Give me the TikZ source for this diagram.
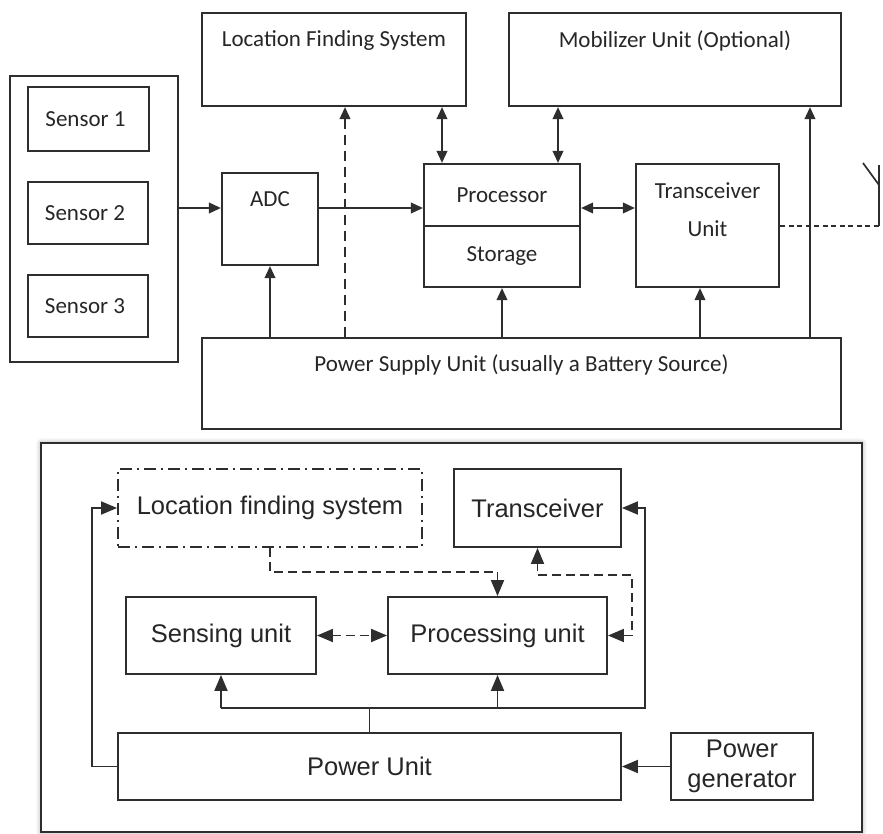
\documentclass[tikz,border=0pt]{standalone}
\usepackage{fontspec}
\newfontfamily\topfont{Carlito}
\newfontfamily\botfont{Liberation Sans}
\usetikzlibrary{arrows.meta,shadows.blur,calc}
\definecolor{ln}{HTML}{2E2E2E}
\definecolor{tx}{HTML}{262626}
\tikzset{
  tbox/.style={draw=ln, line width=2.1pt, inner sep=0pt, text=tx,
    font=\topfont\fontsize{23}{27}\selectfont, align=center},
  bbox/.style={draw=ln, line width=1.9pt, inner sep=0pt, text=tx,
    font=\botfont\fontsize{25.5}{30}\selectfont, align=center},
  tarr/.style={draw=ln, line width=2.1pt, -{Triangle[length=12pt,width=10.5pt]}},
  tdarr/.style={draw=ln, line width=2.1pt, {Triangle[length=12pt,width=10.5pt]}-{Triangle[length=12pt,width=10.5pt]}},
  barr/.style={draw=ln, line width=1.9pt, -{Triangle[length=16pt,width=13pt]}},
  bdarr/.style={draw=ln, line width=1.9pt, {Triangle[length=16pt,width=13pt]}-{Triangle[length=16pt,width=13pt]}},
  bline/.style={draw=ln, line width=1.9pt},
  bdash/.style={dash pattern=on 9pt off 5pt},
}
\begin{document}
\begin{tikzpicture}[x=1pt,y=-1pt]
\useasboundingbox (0,0) rectangle (883,834);

% ---------- top diagram ----------
\node[tbox, minimum width=168pt, minimum height=286pt] (sensors) at (94,219) {};
\node[tbox, minimum width=121pt, minimum height=64pt] (s1) at (88.5,119) {Sensor 1\hspace*{6pt}};
\node[tbox, minimum width=120pt, minimum height=62pt] (s2) at (88,213) {Sensor 2\hspace*{6pt}};
\node[tbox, minimum width=120pt, minimum height=62pt] (s3) at (88,306) {Sensor 3\hspace*{6pt}};
\node[tbox, minimum width=96pt, minimum height=92pt,
  label={[anchor=center,yshift=-27pt,text=tx,font=\topfont\fontsize{23}{27}\selectfont]north:ADC}] (adc) at (270,219) {};
\node[tbox, minimum width=264pt, minimum height=93pt,
  label={[anchor=center,yshift=-29pt,text=tx,font=\topfont\fontsize{23}{27}\selectfont]north:Location Finding System}] (lfs) at (334,59.5) {};
\node[tbox, minimum width=332pt, minimum height=93pt,
  label={[anchor=center,yshift=-29pt,text=tx,font=\topfont\fontsize{23}{27}\selectfont]north:Mobilizer Unit (Optional)}] (mob) at (675,59.5) {};
\node[tbox, minimum width=156pt, minimum height=62pt] (proc) at (502,195) {Processor};
\node[tbox, minimum width=156pt, minimum height=61pt] (stor) at (502,256.5) {Storage};
\node[tbox, minimum width=143pt, minimum height=123pt,
  label={[anchor=center,yshift=-47pt,text=tx,align=center,font=\topfont\fontsize{23}{38}\selectfont]north:Transceiver\\Unit}] (trx) at (707.5,225.5) {};
\node[tbox, minimum width=639pt, minimum height=91pt,
  label={[anchor=center,yshift=-28pt,text=tx,font=\topfont\fontsize{23}{27}\selectfont]north:Power Supply Unit (usually a Battery Source)}] (psu) at (521.5,383.5) {};

\coordinate (rowA) at (0,208);
\coordinate (colA) at (442,0);
\coordinate (colB) at (558,0);
\coordinate (colD) at (345,0);
\coordinate (colT) at (700,0);
\coordinate (colM) at (810,0);
\coordinate (rowT) at (0,226);
\coordinate (ant) at (879,226);
\coordinate (anttop) at (879,165);
\coordinate (antmid) at (879,185);
\coordinate (antleft) at (863,163);

\draw[tarr] (sensors.east |- rowA) -- (adc.west |- rowA);
\draw[tarr] (adc.east |- rowA) -- (proc.west |- rowA);
\draw[tdarr] (proc.east |- rowA) -- (trx.west |- rowA);
\draw[tdarr] (lfs.south -| colA) -- (proc.north -| colA);
\draw[tdarr] (mob.south -| colB) -- (proc.north -| colB);
\draw[tarr] (psu.north -| adc) -- (adc.south);
\draw[tarr, dash pattern=on 10pt off 6pt] (psu.north -| colD) -- (lfs.south -| colD);
\draw[tarr] (psu.north -| stor) -- (stor.south);
\draw[tarr] (psu.north -| colT) -- (trx.south -| colT);
\draw[tarr] (psu.north -| colM) -- (mob.south -| colM);
\draw[draw=ln, line width=1.5pt, dash pattern=on 5pt off 3.5pt] (trx.east |- rowT) -- (ant);
\draw[draw=ln, line width=2pt] (ant) -- (anttop);
\draw[draw=ln, line width=1.7pt] (antleft) -- (antmid);

% ---------- bottom diagram ----------
\node[bbox, fill=white, minimum width=821pt, minimum height=389pt, line width=2.2pt,
  blur shadow={shadow xshift=0pt, shadow yshift=0pt, shadow blur radius=5pt, shadow opacity=40}] (outer) at (451.5,637.5) {};
\node[bbox, minimum width=304pt, minimum height=78pt,
  dash pattern=on 12pt off 5pt on 2pt off 5pt] (blfs) at (270,508) {Location finding system};
\node[bbox, minimum width=167pt, minimum height=78pt] (btrx) at (537.5,508) {Transceiver};
\node[bbox, minimum width=190pt, minimum height=77pt] (sens) at (221,635.5) {Sensing unit};
\node[bbox, minimum width=219pt, minimum height=77pt] (pu) at (497.5,635.5) {Processing unit};
\node[bbox, minimum width=503pt, minimum height=67pt] (pwr) at (369.5,766.5) {Power Unit};
\node[bbox, minimum width=142pt, minimum height=67pt] (gen) at (742,766.5) {Power\\generator};

\coordinate (d1) at (0,572);
\coordinate (c2) at (632,575);
\coordinate (bus) at (0,708);
\coordinate (c3) at (645,0);
\coordinate (c4) at (92,508);

\draw[barr] (gen.west) -- (pwr.east);
\draw[bdarr, bdash] (sens.east) -- (pu.west);
\draw[barr, bdash] (blfs.south) -- (blfs.south |- d1) -| (pu.north);
\draw[bdarr, bdash] (pu.east) -| (c2) -| (btrx.south);
\draw[bline] (pwr.north) -- (pwr.north |- bus);
\draw[barr] (sens.south |- bus) -- (sens.south);
\draw[barr] (pu.south |- bus) -- (pu.south);
\draw[barr] (sens.south |- bus) -- (bus -| c3) |- (btrx.east);
\draw[barr] (pwr.west) -| (c4) -- (blfs.west);
\end{tikzpicture}
\end{document}
